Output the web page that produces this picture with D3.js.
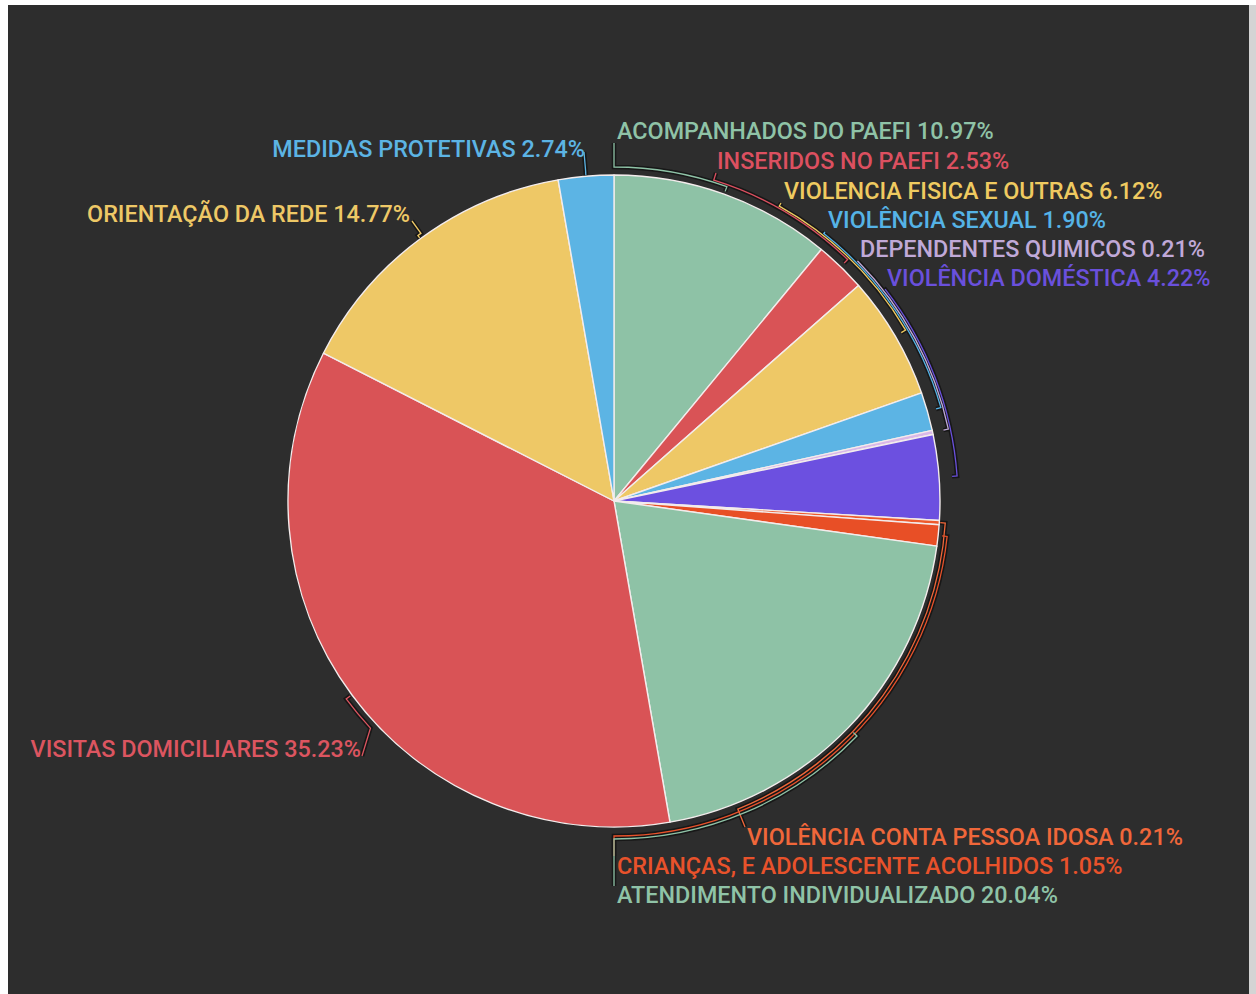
<!DOCTYPE html>
<html><head><meta charset="utf-8">
<script src="https://cdn.jsdelivr.net/npm/d3@7"></script>
<style>html,body{margin:0;padding:0;background:#fff;} svg{display:block}</style>
</head><body><svg id="c" width="1256" height="994"></svg>
<script>
const categories = ["ACOMPANHADOS DO PAEFI", "INSERIDOS NO PAEFI", "VIOLENCIA FISICA E OUTRAS", "VIOLÊNCIA SEXUAL", "DEPENDENTES QUIMICOS", "VIOLÊNCIA DOMÉSTICA", "VIOLÊNCIA CONTA PESSOA IDOSA", "CRIANÇAS, E ADOLESCENTE ACOLHIDOS", "ATENDIMENTO INDIVIDUALIZADO", "VISITAS DOMICILIARES", "ORIENTAÇÃO DA REDE", "MEDIDAS PROTETIVAS"];
const values = [10.97, 2.53, 6.12, 1.90, 0.21, 4.22, 0.21, 1.05, 20.04, 35.23, 14.77, 2.74];
const sliceColors = ["#8ec2a6", "#d95356", "#eec866", "#5cb4e4", "#d9b8e8", "#6c50e0", "#ee5a2c", "#e84f26", "#8ec2a6", "#d95356", "#eec866", "#5cb4e4"];
const labelColors = ["#8fc3a7", "#dc5060", "#efca60", "#55b3e6", "#c0a9d8", "#6a50dc", "#f0673a", "#e8522b", "#8fc3a7", "#dc5560", "#eec866", "#5cb4e4"];
// layout: text position, anchor, leader radial offset, leader end point, optional arc end angle (deg)
const labelLayout = [
  {x:617, y:139, anchor:"start", off:8,  lx:614, ly:143},
  {x:717, y:169, anchor:"start", off:10, lx:716, ly:173},
  {x:784, y:199, anchor:"start", off:12, lx:781, ly:203},
  {x:828, y:228, anchor:"start", off:14, lx:825, ly:232},
  {x:860, y:257, anchor:"start", off:16, lx:858, ly:261},
  {x:887, y:286, anchor:"start", off:18, lx:885, ly:290},
  {x:747, y:845, anchor:"start", off:6,  lx:745, ly:827},
  {x:617, y:874, anchor:"start", off:9,  lx:614, ly:856},
  {x:617, y:903, anchor:"start", off:12, lx:614, ly:886},
  {x:361, y:757, anchor:"end",   off:7,  lx:362, ly:756, ea:227},
  {x:410, y:222, anchor:"end",   off:4,  lx:412, ly:221},
  {x:585, y:157, anchor:"end",   off:4,  lx:584, ly:152}
];

const W = 1256, H = 994;
const cx = 614, cy = 501, r = 326;
const svg = d3.select("#c");
svg.append("rect").attr("x", 8).attr("y", 5).attr("width", 1241).attr("height", H - 5).attr("fill", "#2d2d2d");
svg.append("rect").attr("x", 1249).attr("y", 5).attr("width", 7).attr("height", H - 5).attr("fill", "#d4d4d4");

const data = categories.map((c, i) => ({name: c, value: values[i], i}));
const pie = d3.pie().sort(null).value(d => d.value);
const arcs = pie(data);
const arcGen = d3.arc().innerRadius(0).outerRadius(r);

const g = svg.append("g").attr("transform", `translate(${cx},${cy})`);
g.selectAll("path.slice").data(arcs).join("path")
  .attr("class", "slice")
  .attr("d", arcGen)
  .attr("fill", d => sliceColors[d.data.i])
  .attr("stroke", "#f3ecec")
  .attr("stroke-width", 1.4)
  .attr("stroke-linejoin", "round");

function pt(R, a) { return [R * Math.sin(a), -R * Math.cos(a)]; }
function leaderPath(d) {
  const L = labelLayout[d.data.i];
  const m = (d.startAngle + d.endAngle) / 2;
  const R = r + L.off;
  const ax = L.lx - cx, ay = L.ly - cy;
  let e;
  if (L.ea !== undefined) e = L.ea * Math.PI / 180;
  else { e = Math.atan2(ax, -ay); if (e < 0) e += 2 * Math.PI; }
  const t0 = pt(Math.max(r + 1, R - 5), m);
  const p0 = pt(R, m);
  const p1 = pt(R, e);
  const sweep = e > m ? 1 : 0;
  const large = Math.abs(e - m) > Math.PI ? 1 : 0;
  return `M${t0[0]},${t0[1]}L${p0[0]},${p0[1]}A${R},${R} 0 ${large} ${sweep} ${p1[0]},${p1[1]}L${ax},${ay}`;
}
const lg = g.append("g");
lg.selectAll("path.halo").data(arcs).join("path")
  .attr("class", "halo")
  .attr("d", leaderPath)
  .attr("fill", "none")
  .attr("stroke", "#171717")
  .attr("stroke-width", 4.5);
lg.selectAll("path.leader").data(arcs).join("path")
  .attr("class", "leader")
  .attr("d", leaderPath)
  .attr("fill", "none")
  .attr("stroke", d => labelColors[d.data.i])
  .attr("stroke-width", 1.3);

const tg = svg.append("g");
const texts = tg.selectAll("text").data(arcs).join("text")
  .attr("text-anchor", d => labelLayout[d.data.i].anchor)
  .attr("font-family", "Roboto, 'Noto Sans', sans-serif")
  .attr("font-weight", 500)
  .attr("font-size", 24)
  .attr("fill", d => labelColors[d.data.i])
  .text(d => `${d.data.name} ${d.data.value.toFixed(2)}%`);
// horizontal compression to match the condensed face of the original
const ref = texts.filter(d => d.data.i === 8).node().getComputedTextLength();
const k = 441 / ref;
texts.attr("transform", d => {
  const L = labelLayout[d.data.i];
  return `translate(${L.x},${L.y}) scale(${k},1)`;
});
</script>
</body></html>
